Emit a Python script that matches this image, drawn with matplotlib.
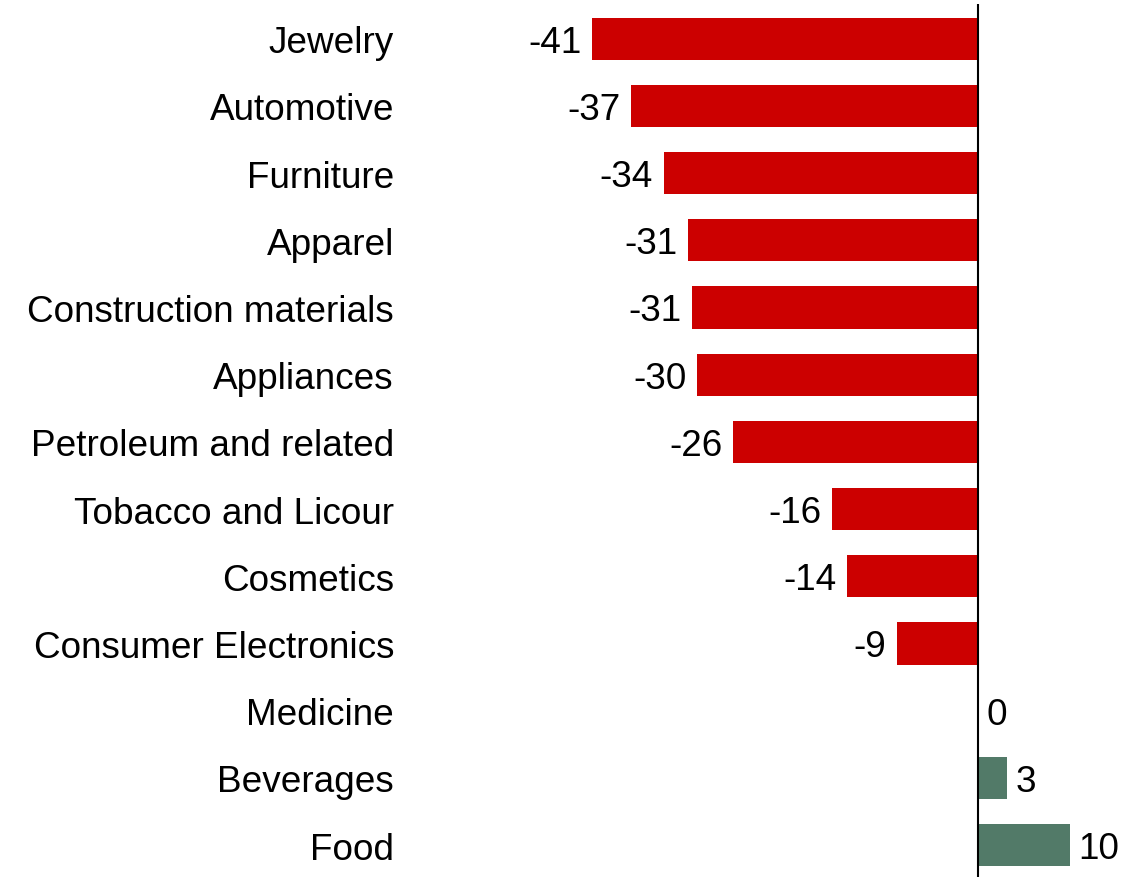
import matplotlib
matplotlib.use("Agg")
import matplotlib.pyplot as plt

categories = ["Jewelry", "Automotive", "Furniture", "Apparel", "Construction materials",
              "Appliances", "Petroleum and related", "Tobacco and Licour", "Cosmetics",
              "Consumer Electronics", "Medicine", "Beverages", "Food"]
values = [-41.2, -37.1, -33.6, -31.0, -30.6, -30.0, -26.2, -15.6, -14.0, -8.7, 0.0, 3.1, 9.8]

RED = "#CC0000"
GREEN = "#527A68"

plt.rcParams['font.family'] = ['Liberation Sans', 'DejaVu Sans']

fig = plt.figure(figsize=(11.4, 8.78), dpi=100)
ax = fig.add_axes([0.35, 0.0, 0.65, 1 - 5 / 878])

y = list(range(len(categories)))
colors = [RED if v < 0 else GREEN for v in values]
ax.barh(y, values, height=0.63, color=colors, zorder=2)
ax.axvline(0, color="black", lw=1.5, zorder=3)

ax.set_xlim(-61.86, 17.31)
ax.set_ylim(12.476, -0.517)
ax.set_yticks(y)
ax.set_yticklabels(categories, fontsize=26.6)
ax.tick_params(axis='y', length=0, pad=3.6)
ax.set_xticks([])
for s in ax.spines.values():
    s.set_visible(False)

for yi, v in zip(y, values):
    lab = f"{round(v):d}"
    if v < 0:
        ax.annotate(lab, (v, yi), xytext=(-7.5, -9.3), textcoords="offset points",
                    ha="right", va="baseline", fontsize=26.6)
    else:
        ax.annotate(lab, (v, yi), xytext=(6, -9.3), textcoords="offset points",
                    ha="left", va="baseline", fontsize=26.6)

fig.savefig("out.png", dpi=100)
